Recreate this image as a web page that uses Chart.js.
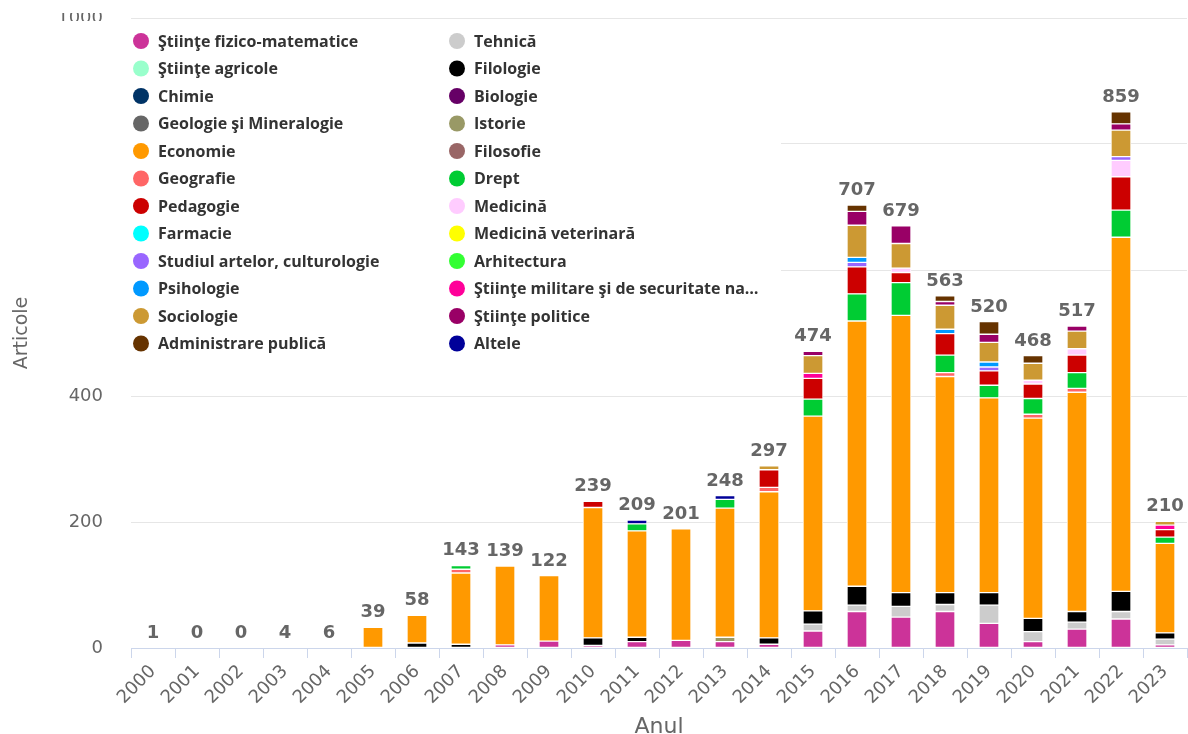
<!DOCTYPE html>
<html><head><meta charset="utf-8">
<script src="https://cdn.jsdelivr.net/npm/chart.js@4/dist/chart.umd.min.js"></script>
<style>html,body{margin:0;padding:0;background:#fff}#wrap{width:1188px;height:734px;position:relative}</style>
</head><body><div id="wrap"><canvas id="c"></canvas></div>
<script>
const years = ['2000','2001','2002','2003','2004','2005','2006','2007','2008','2009','2010','2011','2012','2013','2014','2015','2016','2017','2018','2019','2020','2021','2022','2023'];
const totals = [1,0,0,4,6,39,58,143,139,122,239,209,201,248,297,474,707,679,563,520,468,517,859,210];
const yTicks = [0,200,400,600,800,1000];

const seriesNames = ['Ştiinţe fizico-matematice','Tehnică','Ştiinţe agricole','Filologie','Chimie','Biologie','Geologie şi Mineralogie','Istorie','Economie','Filosofie','Geografie','Drept','Pedagogie','Medicină','Farmacie','Medicină veterinară','Studiul artelor, culturologie','Arhitectura','Psihologie','Ştiinţe militare şi de securitate na…','Sociologie','Ştiinţe politice','Administrare publică','Altele'];
const seriesColors = ['#cc3399','#cccccc','#99ffcc','#000000','#003366','#660066','#666666','#999966','#ff9900','#996666','#ff6666','#00cc33','#cc0000','#ffccff','#00ffff','#ffff00','#9966ff','#33ff33','#0099ff','#ff0099','#cc9933','#990066','#663300','#000099'];

const fizicoMatematice = [0,0,0,0,0, 0,0,0,5,11, 4,10,12,10,6, 27,58,49,58,39, 10,30,46,5];
const tehnica          = [0,0,0,0,0, 0,0,0,0,0, 0,0,0,0,0, 11,10,17,11,29, 16,11,12,9];
const agricole         = [0,0,0,0,0, 0,0,0,0,0, 0,0,0,0,0, 0,0,0,0,0, 0,0,0,0];
const filologie        = [0,0,0,0,0, 0,8,6,0,0, 12,7,0,0,10, 21,30,22,19,20, 21,17,32,10];
const chimie           = [0,0,0,0,0, 0,0,0,0,0, 0,0,0,0,0, 0,0,0,0,0, 0,0,0,0];
const biologie         = [0,0,0,0,0, 0,0,0,0,0, 0,0,0,0,0, 0,0,0,0,0, 0,0,0,0];
const geologie         = [0,0,0,0,0, 0,0,0,0,0, 0,0,0,0,0, 0,0,0,0,0, 0,0,0,0];
const istorie          = [0,0,0,0,0, 0,0,0,0,0, 0,0,0,7,0, 0,0,0,0,0, 0,0,0,0];
const economie         = [0,0,0,0,0, 33,44,113,125,104, 207,169,177,205,232, 309,421,440,343,309, 318,348,562,142];
const filosofie        = [0,0,0,0,0, 0,0,0,0,0, 0,0,0,0,0, 0,0,0,0,0, 0,0,0,0];
const geografie        = [0,0,0,0,0, 0,0,6,0,0, 0,0,0,0,7, 0,0,0,6,0, 6,6,0,0];
const drept            = [0,0,0,0,0, 0,0,6,0,0, 0,11,0,14,0, 27,43,52,28,20, 25,25,43,10];
const pedagogie        = [0,0,0,0,0, 0,0,0,0,0, 10,0,0,0,28, 33,43,16,34,23, 23,28,53,12];
const medicina         = [0,0,0,0,0, 0,0,0,0,0, 0,0,0,0,0, 0,0,7,0,0, 6,10,26,0];
const farmacie         = [0,0,0,0,0, 0,0,0,0,0, 0,0,0,0,0, 0,0,0,0,0, 0,0,0,0];
const veterinara       = [0,0,0,0,0, 0,0,0,0,0, 0,0,0,0,0, 0,0,0,0,0, 0,0,0,0];
const artelor          = [0,0,0,0,0, 0,0,0,0,0, 0,0,0,0,0, 0,7,0,0,6, 0,0,6,0];
const arhitectura      = [0,0,0,0,0, 0,0,0,0,0, 0,0,0,0,0, 0,0,0,0,0, 0,0,0,0];
const psihologie       = [0,0,0,0,0, 0,0,0,0,0, 0,0,0,0,0, 0,8,0,7,8, 0,0,0,0];
const militare         = [0,0,0,0,0, 0,0,0,0,0, 0,0,0,0,0, 8,0,0,0,0, 0,0,0,7];
const sociologie       = [0,0,0,0,0, 0,0,0,0,0, 0,0,0,0,6, 28,51,39,38,31, 27,28,42,6];
const politice         = [0,0,0,0,0, 0,0,0,0,0, 0,0,0,0,0, 7,22,28,6,13, 0,8,10,0];
const administrare     = [0,0,0,0,0, 0,0,0,0,0, 0,0,0,0,0, 0,10,0,9,20, 12,0,19,0];
const altele           = [0,0,0,0,0, 0,0,0,0,0, 0,6,0,6,0, 0,0,0,0,0, 0,0,0,0];

const seriesValues = [fizicoMatematice,tehnica,agricole,filologie,chimie,biologie,geologie,istorie,economie,filosofie,geografie,drept,pedagogie,medicina,farmacie,veterinara,artelor,arhitectura,psihologie,militare,sociologie,politice,administrare,altele];

const datasets = seriesNames.map((n,i)=>({
  label:n, data:seriesValues[i], backgroundColor:seriesColors[i],
  borderColor:'#ffffff', borderWidth:1, borderSkipped:false,
  barThickness:20, stack:'s'
}));

const totalsPlugin = {
  id:'totals',
  afterDatasetsDraw(chart){
    const ctx = chart.ctx, x = chart.scales.x, y = chart.scales.y;
    ctx.save();
    ctx.font = 'bold 18px "DejaVu Sans"';
    ctx.textAlign = 'center';
    ctx.textBaseline = 'alphabetic';
    ctx.lineJoin = 'round';
    years.forEach((yr,i)=>{
      let s = 0; seriesValues.forEach(a=>{ s += a[i]; });
      const px = x.getPixelForValue(i), py = y.getPixelForValue(s) - 10;
      ctx.strokeStyle = '#ffffff'; ctx.lineWidth = 3;
      ctx.strokeText(String(totals[i]), px, py);
      ctx.fillStyle = '#666666';
      ctx.fillText(String(totals[i]), px, py);
    });
    ctx.restore();
  }
};

const legendPlugin = {
  id:'gridLegend',
  afterDraw(chart){
    const ctx = chart.ctx;
    ctx.save();
    ctx.fillStyle = '#ffffff';
    ctx.fillRect(40, 0, 88, 13);      /* top of the picture is cropped in the reference */
    ctx.fillRect(40, 21, 741, 352);   /* floating legend box */
    ctx.font = 'bold 16px "Open Sans"';
    ctx.textBaseline = 'middle';
    ctx.textAlign = 'left';
    chart.data.datasets.forEach((ds,i)=>{
      const col = i % 2, row = Math.floor(i/2);
      const cx = col === 0 ? 141 : 457;
      const cy = 41 + row*27.5;
      ctx.fillStyle = ds.backgroundColor;
      ctx.beginPath(); ctx.arc(cx, cy, 8, 0, Math.PI*2); ctx.fill();
      ctx.fillStyle = '#333333';
      ctx.fillText(ds.label, cx + 17, cy + 1);
    });
    ctx.restore();
  }
};

new Chart(document.getElementById('c'), {
  type:'bar',
  data:{ labels:years, datasets },
  plugins:[totalsPlugin, legendPlugin],
  options:{
    responsive:true, maintainAspectRatio:false, animation:false,
    layout:{ padding:{ top:18, right:1, left:0, bottom:0 } },
    plugins:{ legend:{ display:false }, tooltip:{ enabled:false } },
    scales:{
      x:{
        stacked:true,
        grid:{ display:true, drawOnChartArea:false, drawTicks:true, tickLength:10, color:'#ccd6eb', offset:true },
        border:{ display:true, color:'#ccd6eb', width:1 },
        ticks:{ minRotation:45, maxRotation:45, autoSkip:false, padding:3, color:'#666666', font:{ family:'DejaVu Sans', size:18 } },
        title:{ display:true, text:'Anul', color:'#666666', font:{ family:'DejaVu Sans', size:22 }, padding:{ top:0, bottom:-6 } },
        afterFit(s){ s.height = 86; }
      },
      y:{
        stacked:true, min:0, max:1000,
        afterBuildTicks(s){ s.ticks = yTicks.map(v=>({value:v})); },
        grid:{ color:'#e6e6e6', drawTicks:true, tickLength:28, tickColor:'rgba(0,0,0,0)', lineWidth:1 },
        border:{ display:false },
        ticks:{ padding:0, color:'#666666', font:{ family:'DejaVu Sans', size:18 }, callback:(v)=>String(v) },
        title:{ display:true, text:'Articole', color:'#666666', font:{ family:'DejaVu Sans', size:19 }, padding:{ top:11, bottom:0 } },
        afterFit(s){ s.width = 131; }
      }
    }
  }
});
</script></body></html>
